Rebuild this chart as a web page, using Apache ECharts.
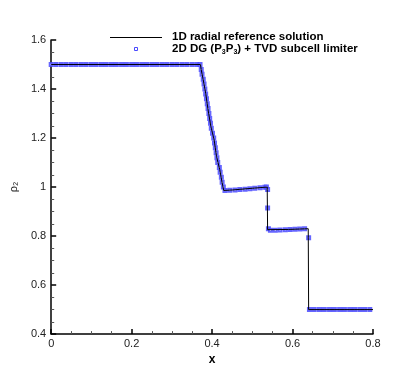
<!DOCTYPE html>
<html>
<head>
<meta charset="utf-8">
<script src="https://cdn.jsdelivr.net/npm/echarts@6/dist/echarts.min.js"></script>
<style>
  html, body { margin: 0; padding: 0; background: #fff; }
  #chart { width: 419px; height: 371px; }
</style>
</head>
<body>
<div id="chart"></div>
<script>
  // 1D radial reference solution
  const refX = [0, 0.371, 0.373, 0.378, 0.384, 0.390, 0.397, 0.405, 0.411, 0.419, 0.425, 0.429, 0.450, 0.500, 0.537, 0.538, 0.590, 0.639, 0.640, 0.800];
  const refY = [1.5, 1.5, 1.478, 1.437, 1.383, 1.315, 1.247, 1.193, 1.125, 1.071, 1.017, 0.986, 0.988, 0.995, 1.0, 0.826, 0.827, 0.830, 0.5, 0.5];

  // 2D DG (P3P3) + TVD subcell limiter
  const dgX = [
    0.000, 0.012, 0.025, 0.037, 0.050, 0.062, 0.075, 0.087, 0.100, 0.112,
    0.125, 0.137, 0.150, 0.162, 0.175, 0.187, 0.200, 0.212, 0.225, 0.237,
    0.250, 0.262, 0.275, 0.287, 0.300, 0.312, 0.325, 0.337, 0.350, 0.362, 0.370,
    0.373, 0.375, 0.378, 0.380, 0.382, 0.384, 0.386, 0.388, 0.390, 0.392,
    0.394, 0.396, 0.398, 0.401, 0.404, 0.406, 0.408, 0.410, 0.412, 0.414,
    0.418, 0.420, 0.423, 0.425, 0.428,
    0.432, 0.444, 0.457, 0.469, 0.482, 0.494, 0.506, 0.519, 0.531,
    0.535, 0.538, 0.538, 0.540,
    0.545, 0.557, 0.569, 0.582, 0.594, 0.606, 0.618, 0.630,
    0.640,
    0.642, 0.654, 0.667, 0.679, 0.692, 0.704, 0.717, 0.729, 0.742, 0.754, 0.767, 0.779, 0.792
  ];
  const dgY = [
    1.5, 1.5, 1.5, 1.5, 1.5, 1.5, 1.5, 1.5, 1.5, 1.5,
    1.5, 1.5, 1.5, 1.5, 1.5, 1.5, 1.5, 1.5, 1.5, 1.5,
    1.5, 1.5, 1.5, 1.5, 1.5, 1.5, 1.5, 1.5, 1.5, 1.5, 1.5,
    1.48, 1.46, 1.44, 1.42, 1.40, 1.38, 1.36, 1.34, 1.32, 1.30,
    1.28, 1.26, 1.24, 1.22, 1.20, 1.18, 1.16, 1.14, 1.12, 1.10,
    1.08, 1.06, 1.04, 1.02, 1.00,
    0.986, 0.987, 0.988, 0.990, 0.991, 0.993, 0.995, 0.997, 0.999,
    1.0, 0.99, 0.915, 0.83,
    0.824, 0.824, 0.825, 0.826, 0.827, 0.828, 0.829, 0.830,
    0.793,
    0.5, 0.5, 0.5, 0.5, 0.5, 0.5, 0.5, 0.5, 0.5, 0.5, 0.5, 0.5, 0.5
  ];

  const xTicks = { min: 0, max: 0.8, interval: 0.2 };
  const yTicks = { min: 0.4, max: 1.6, interval: 0.2 };

  const font = 'Arial, "Liberation Sans", sans-serif';
  const blue = '#4a4aff';

  const chart = echarts.init(document.getElementById('chart'));

  const axisCommon = {
    type: 'value',
    axisLine: { show: true, lineStyle: { color: '#000', width: 1.5 } },
    axisTick: { show: true, inside: true, length: 5, lineStyle: { color: '#000', width: 1.5 } },
    minorTick: { show: true, splitNumber: 4, length: 3, lineStyle: { color: '#555', width: 1 } },
    splitLine: { show: false },
    minorSplitLine: { show: false },
    axisLabel: { color: '#222', fontSize: 11, fontFamily: font },
  };

  chart.setOption({
    animation: false,
    grid: { left: 50, right: 46, top: 40, bottom: 36 },
    xAxis: Object.assign({}, axisCommon, {
      min: xTicks.min, max: xTicks.max, interval: xTicks.interval,
      name: 'x', nameLocation: 'middle', nameGap: 18,
      nameTextStyle: { color: '#000', fontSize: 12, fontWeight: 'bold', fontFamily: font },
      axisLabel: Object.assign({}, axisCommon.axisLabel, { margin: 4 }),
    }),
    yAxis: Object.assign({}, axisCommon, {
      min: yTicks.min, max: yTicks.max, interval: yTicks.interval,
      name: '{a|ρ}{s|2}', nameLocation: 'middle', nameGap: 30, nameRotate: 90,
      nameTextStyle: {
        color: '#222', fontFamily: font,
        rich: {
          a: { fontSize: 11, fontFamily: font, color: '#222' },
          s: { fontSize: 7, fontFamily: font, color: '#222', padding: [6, 0, 0, 0] },
        },
      },
      axisLabel: Object.assign({}, axisCommon.axisLabel, { margin: 5 }),
    }),
    series: [
      {
        name: '2D DG (P3P3) + TVD subcell limiter',
        type: 'scatter',
        symbol: 'emptyRect',
        symbolSize: 3,
        itemStyle: { color: blue, borderColor: blue, borderWidth: 1, opacity: 0.85 },
        data: dgX.map((x, i) => [x, dgY[i]]),
        z: 2,
      },
      {
        name: '1D radial reference solution',
        type: 'line',
        showSymbol: false,
        symbol: 'none',
        lineStyle: { color: '#000', width: 1 },
        data: refX.map((x, i) => [x, refY[i]]),
        z: 3,
      },
    ],
    graphic: [
      { type: 'line', shape: { x1: 110, y1: 37.5, x2: 162, y2: 37.5 }, style: { stroke: '#000', lineWidth: 1 } },
      { type: 'text', left: 172, top: 31, style: { text: '1D radial reference solution', font: 'bold 11.5px ' + font, fill: '#000' } },
      { type: 'rect', shape: { x: 134.5, y: 47.5, width: 3, height: 3 }, style: { fill: '#fff', stroke: blue, lineWidth: 1 } },
      {
        type: 'text', left: 172, top: 43,
        style: {
          text: '{b|2D DG (P}{s|3}{b|P}{s|3}{b|) + TVD subcell limiter}',
          rich: {
            b: { font: 'bold 11.5px ' + font, fill: '#000' },
            s: { font: 'bold 7px ' + font, fill: '#000', padding: [6, 0, 0, 0] },
          },
        },
      },
    ],
  });
</script>
</body>
</html>
